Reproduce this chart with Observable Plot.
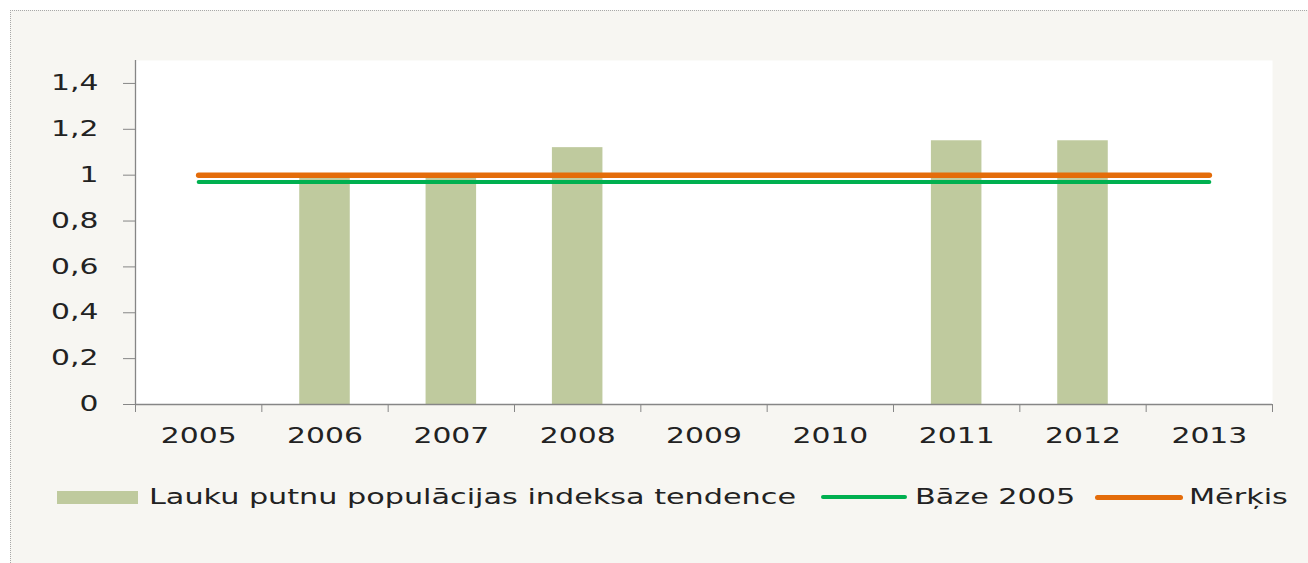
<!DOCTYPE html>
<html>
<head>
<meta charset="utf-8">
<script src="https://cdn.jsdelivr.net/npm/d3@7"></script>
<script src="https://cdn.jsdelivr.net/npm/@observablehq/plot@0.6"></script>
<style>
  html, body { margin: 0; padding: 0; background: #ffffff; overflow: hidden; }
  body { width: 1308px; height: 563px; position: relative; font-family: "DejaVu Sans", sans-serif; }
  #panel { position: absolute; left: 10px; top: 10px; width: 1400px; height: 600px;
           background: #f7f6f2; border-top: 1px dotted #a8a8a8; border-left: 1px dotted #a8a8a8; }
  #chart { position: absolute; left: 0; top: 0; }
  #legend { position: absolute; left: 57px; top: 484px; height: 26px; display: flex; align-items: center;
            font-size: 21px; color: #222; white-space: nowrap; }
  .lbl-wrap { display: inline-block; height: 26px; line-height: 26px; }
  .lbl { display: inline-block; transform-origin: 0 50%; }
  .sw { display: inline-block; }
</style>
</head>
<body>
<div id="panel"></div>
<div id="chart"></div>
<div id="legend"></div>
<script>
// ---- data ----
const years = [2005, 2006, 2007, 2008, 2009, 2010, 2011, 2012, 2013];
const indexValues = [null, 0.99, 0.99, 1.12, null, null, 1.15, 1.15, null];
const baseValues = [0.97, 0.97, 0.97, 0.97, 0.97, 0.97, 0.97, 0.97, 0.97];
const targetValues = [1, 1, 1, 1, 1, 1, 1, 1, 1];
const yTicks = [0, 0.2, 0.4, 0.6, 0.8, 1, 1.2, 1.4];
const seriesNames = ["Lauku putnu populācijas indeksa tendence", "Bāze 2005", "Mērķis"];

// ---- styles ----
const barColor = "#bfca9e";
const baseColor = "#00b050";
const targetColor = "#e46c0a";
const axisColor = "#868686";
const textColor = "#222";
const stretch = 1.42;
const legendStretch = 1.44;

const bars = years.map((y, i) => ({year: y, value: indexValues[i]})).filter(d => d.value != null);
const base = years.map((y, i) => ({year: y, value: baseValues[i]}));
const target = years.map((y, i) => ({year: y, value: targetValues[i]}));
const boundaries = [years[0] - 0.5, ...years.map(y => y + 0.5)];
const fmt = d => String(d).replace(".", ",");

const chart = Plot.plot({
  width: 1308,
  height: 470,
  marginLeft: 135,
  marginRight: 36,
  marginTop: 60,
  marginBottom: 66,
  style: {background: "transparent", fontFamily: "DejaVu Sans", fontSize: "21px", color: textColor},
  x: {type: "linear", domain: [years[0] - 0.5, years[years.length - 1] + 0.5]},
  y: {domain: [0, 1.5]},
  marks: [
    Plot.frame({fill: "white", stroke: "none"}),
    Plot.rectY(bars, {x1: d => d.year - 0.2, x2: d => d.year + 0.2, y: "value", fill: barColor}),
    Plot.ruleX([boundaries[0]], {stroke: axisColor, strokeWidth: 1.3}),
    Plot.ruleY([0], {stroke: axisColor, strokeWidth: 1.3}),
    Plot.lineY(base, {x: "year", y: "value", stroke: baseColor, strokeWidth: 4, strokeLinecap: "round"}),
    Plot.lineY(target, {x: "year", y: "value", stroke: targetColor, strokeWidth: 5.5, strokeLinecap: "round"}),
    Plot.axisY({ticks: yTicks, tickSize: 12, tickPadding: 25, tickFormat: fmt, stroke: axisColor, strokeOpacity: 1, fill: textColor, label: null}),
    Plot.axisX({ticks: boundaries, tickSize: 8, tickFormat: () => "", stroke: axisColor, strokeOpacity: 1, label: null}),
    Plot.axisX({ticks: years, tickSize: 0, tickPadding: 24, tickFormat: d => String(d), fill: textColor, label: null})
  ]
});
document.getElementById("chart").appendChild(chart);

// horizontally stretch the tick labels like the reference
d3.select(chart).selectAll("text").each(function() {
  const t = this.getAttribute("transform") || "";
  const x = +(this.getAttribute("x") || 0);
  this.setAttribute("transform", `${t} translate(${x},0) scale(${stretch},1) translate(${-x},0)`);
});

// ---- legend ----
const legend = document.getElementById("legend");
function addSwatch(w, h, color, radius, marginRight) {
  const s = document.createElement("span");
  s.className = "sw";
  s.style.width = w + "px";
  s.style.height = h + "px";
  s.style.background = color;
  s.style.borderRadius = radius + "px";
  s.style.marginRight = marginRight + "px";
  legend.appendChild(s);
}
function addLabel(text, marginRight) {
  const wrap = document.createElement("span");
  wrap.className = "lbl-wrap";
  const l = document.createElement("span");
  l.className = "lbl";
  l.textContent = text;
  wrap.appendChild(l);
  legend.appendChild(wrap);
  const w = l.offsetWidth;
  l.style.transform = `scaleX(${legendStretch})`;
  wrap.style.width = (w * legendStretch) + "px";
  wrap.style.marginRight = marginRight + "px";
}
addSwatch(81, 13, barColor, 0, 11);
addLabel(seriesNames[0], 25);
addSwatch(86, 4, baseColor, 2, 8);
addLabel(seriesNames[1], 21);
addSwatch(88, 5, targetColor, 3, 6);
addLabel(seriesNames[2], 0);
</script>
</body>
</html>
